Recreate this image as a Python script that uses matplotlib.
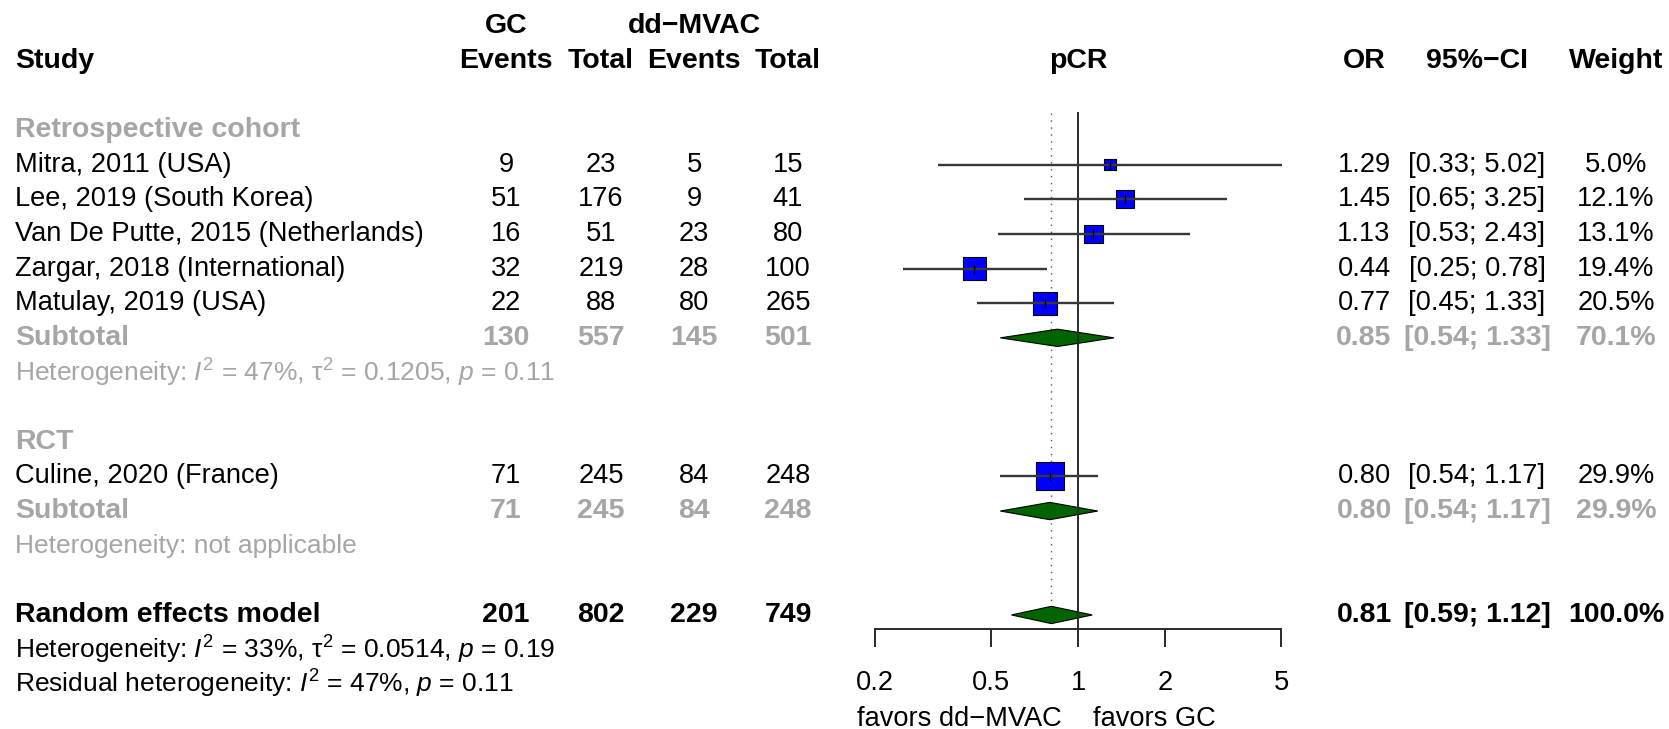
import matplotlib
matplotlib.use('Agg')
import matplotlib.pyplot as plt
import matplotlib.transforms as mtransforms
from matplotlib.patches import Polygon
import numpy as np

plt.rcParams['font.family'] = ['Liberation Sans', 'DejaVu Sans']
plt.rcParams['mathtext.fontset'] = 'custom'
plt.rcParams['mathtext.rm'] = 'Liberation Sans'
plt.rcParams['mathtext.it'] = 'Liberation Sans:italic'
plt.rcParams['mathtext.bf'] = 'Liberation Sans:bold'

# ---------------- data ----------------
studies = ["Mitra, 2011 (USA)", "Lee, 2019 (South Korea)",
           "Van De Putte, 2015 (Netherlands)", "Zargar, 2018 (International)",
           "Matulay, 2019 (USA)", "Culine, 2020 (France)"]
study_group = [0, 0, 0, 0, 0, 1]
gc_events = [9, 51, 16, 32, 22, 71]
gc_total = [23, 176, 51, 219, 88, 245]
mvac_events = [5, 9, 23, 28, 80, 84]
mvac_total = [15, 41, 80, 100, 265, 248]
odds_ratio = [1.29, 1.45, 1.13, 0.44, 0.77, 0.80]
ci_low = [0.33, 0.65, 0.53, 0.25, 0.45, 0.54]
ci_high = [5.02, 3.25, 2.43, 0.78, 1.33, 1.17]
weight = [5.0, 12.1, 13.1, 19.4, 20.5, 29.9]

groups = ["Retrospective cohort", "RCT"]
sub_gc_events = [130, 71]
sub_gc_total = [557, 245]
sub_mvac_events = [145, 84]
sub_mvac_total = [501, 248]
sub_or = [0.85, 0.80]
sub_low = [0.54, 0.54]
sub_high = [1.33, 1.17]
sub_weight = [70.1, 29.9]
sub_het = [r"Heterogeneity: $I^2$ = 47%, τ$^2$ = 0.1205, $p$ = 0.11",
           "Heterogeneity: not applicable"]

overall_label = "Random effects model"
overall_counts = [201, 802, 229, 749]
overall_or, overall_low, overall_high, overall_weight = 0.81, 0.59, 1.12, 100.0
overall_het = r"Heterogeneity: $I^2$ = 33%, τ$^2$ = 0.0514, $p$ = 0.19"
resid_het = r"Residual heterogeneity: $I^2$ = 47%, $p$ = 0.11"

xticks = [0.2, 0.5, 1, 2, 5]
xtick_labels = ["0.2", "0.5", "1", "2", "5"]
label_left = "favors dd\u2212MVAC"
label_right = "favors GC"

# ---------------- layout ----------------
W, H = 1669, 729
ROW0, ROWH = 130, 34.64
FS = 19.6
FSB = 20.5
FSH = 19.0
GRAY = '#A6A6A6'
col_x = [506, 601, 694, 788]
or_x, ci_x, w_x = 1364, 1477, 1616
left_x = 15

fig = plt.figure(figsize=(W / 100, H / 100), dpi=100)
ax = fig.add_axes([875 / W, 0, (1281 - 875) / W, 1])
ax.set_xscale('log')
ax.set_xlim(0.2, 5)
ax.set_ylim((H - ROW0) / ROWH, -ROW0 / ROWH)
ax.patch.set_alpha(0)
for s in ['top', 'left', 'right']:
    ax.spines[s].set_visible(False)
ax.yaxis.set_visible(False)

trans = mtransforms.blended_transform_factory(fig.transFigure, ax.transData)


def put(xpx, r, s, ha='center', bold=False, color='black', size=None):
    if size is None:
        size = FSB if bold else FS
    fig.text(xpx / W, r, s, transform=trans, ha=ha, va='center',
             fontsize=size, fontweight='bold' if bold else 'normal', color=color)


# headers
put(col_x[0], -3, "GC", bold=True)
put(col_x[2], -3, "dd\u2212MVAC", bold=True)
put(left_x, -2, "Study", ha='left', bold=True)
for x, h in zip(col_x, ["Events", "Total", "Events", "Total"]):
    put(x, -2, h, bold=True)
ax.text(1, -2, "pCR", ha='center', va='center', fontsize=FSB, fontweight='bold')
put(or_x, -2, "OR", bold=True)
put(ci_x, -2, "95%\u2212CI", bold=True)
put(w_x, -2, "Weight", bold=True)

# rows
study_rows = []
sub_rows = []
r = 0
for g, gname in enumerate(groups):
    put(left_x, r, gname, ha='left', bold=True, color=GRAY)
    r += 1
    for i, sname in enumerate(studies):
        if study_group[i] != g:
            continue
        study_rows.append(r)
        put(left_x, r, sname, ha='left')
        for x, v in zip(col_x, [gc_events[i], gc_total[i], mvac_events[i], mvac_total[i]]):
            put(x, r, str(v))
        put(or_x, r, f"{odds_ratio[i]:.2f}")
        put(ci_x, r, f"[{ci_low[i]:.2f}; {ci_high[i]:.2f}]")
        put(w_x, r, f"{weight[i]:.1f}%")
        r += 1
    sub_rows.append(r)
    put(left_x, r, "Subtotal", ha='left', bold=True, color=GRAY)
    for x, v in zip(col_x, [sub_gc_events[g], sub_gc_total[g], sub_mvac_events[g], sub_mvac_total[g]]):
        put(x, r, str(v), bold=True, color=GRAY)
    put(or_x, r, f"{sub_or[g]:.2f}", bold=True, color=GRAY)
    put(ci_x, r, f"[{sub_low[g]:.2f}; {sub_high[g]:.2f}]", bold=True, color=GRAY)
    put(w_x, r, f"{sub_weight[g]:.1f}%", bold=True, color=GRAY)
    r += 1
    put(left_x, r, sub_het[g], ha='left', color=GRAY, size=FSH)
    r += 2

overall_row = r
put(left_x, r, overall_label, ha='left', bold=True)
for x, v in zip(col_x, overall_counts):
    put(x, r, str(v), bold=True)
put(or_x, r, f"{overall_or:.2f}", bold=True)
put(ci_x, r, f"[{overall_low:.2f}; {overall_high:.2f}]", bold=True)
put(w_x, r, f"{overall_weight:.1f}%", bold=True)
put(left_x, r + 1, overall_het, ha='left', size=FSH)
put(left_x, r + 2, resid_het, ha='left', size=FSH)

# ---------------- forest ----------------
axis_row = overall_row + 0.405
ax.plot([1, 1], [-0.5, axis_row], color='#2a2a2a', lw=1.4, zorder=3.5)
ax.plot([overall_or, overall_or], [-0.5, overall_row - 0.27], color='#555555',
        lw=1.0, ls=(0, (1, 4)), zorder=1)

side_pt = 5.15 * np.sqrt(np.array(weight)) * 0.72
ax.scatter(odds_ratio, study_rows, s=side_pt ** 2, marker='s', color='#0000FF',
           edgecolors='black', linewidths=0.8, zorder=3)
ax.hlines(study_rows, ci_low, ci_high, color='#383838', lw=1.7, zorder=4, clip_on=False)
ax.scatter(odds_ratio, study_rows, marker='|', s=6.5 ** 2, color='black',
           linewidths=1.0, zorder=5)

dh = 0.25
diamonds = [(sub_or[g], sub_low[g], sub_high[g], sub_rows[g]) for g in range(len(groups))]
diamonds.append((overall_or, overall_low, overall_high, overall_row))
for est, lo, hi, rr in diamonds:
    ax.add_patch(Polygon([(lo, rr), (est, rr - dh), (hi, rr), (est, rr + dh)],
                         closed=True, facecolor='#006400', edgecolor='black',
                         lw=0.8, zorder=3))

ax.spines['bottom'].set_position(('data', axis_row))
ax.spines['bottom'].set_bounds(0.2, 5)
ax.spines['bottom'].set_color('#2a2a2a')
ax.spines['bottom'].set_linewidth(1.4)
ax.set_xticks(xticks)
ax.set_xticklabels(xtick_labels)
ax.xaxis.set_minor_locator(matplotlib.ticker.NullLocator())
ax.tick_params(axis='x', direction='out', length=13, width=1.4, color='#2a2a2a',
               labelsize=FS, pad=16.5)

ax.annotate(label_left, xy=(1, overall_row + 3), xytext=(-11.5, 0),
            textcoords='offset points', ha='right', va='center', fontsize=FS)
ax.annotate(label_right, xy=(1, overall_row + 3), xytext=(11, 0),
            textcoords='offset points', ha='left', va='center', fontsize=FS)

fig.savefig('out.png', dpi=100, facecolor='white')
